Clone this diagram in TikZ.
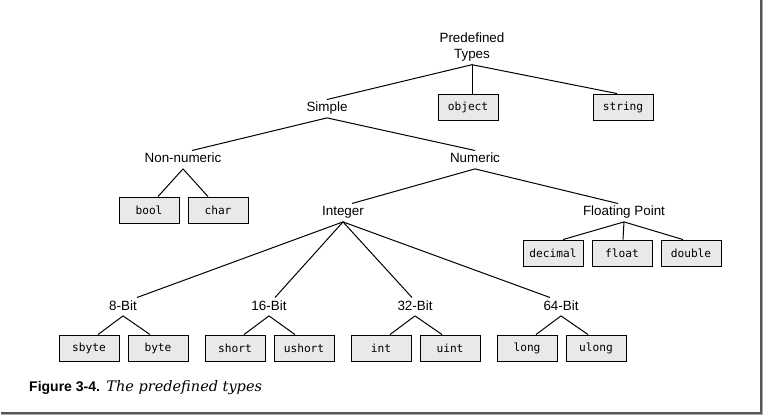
\documentclass[tikz,border=0pt]{standalone}
\usepackage{fontspec}
\setmainfont{Liberation Sans}
\newfontfamily\boxfont{DejaVu Sans Mono}
\newfontfamily\capbold{Liberation Sans}
\newfontfamily\capital{DejaVu Serif}
\definecolor{boxgray}{RGB}{233,233,233}
\definecolor{shadowdark}{RGB}{85,85,85}
\definecolor{shadowlight}{RGB}{170,170,170}
\begin{document}
\begin{tikzpicture}[x=1pt,y=-1pt,
  lbl/.style={font=\fontsize{13.4}{16}\selectfont, inner xsep=2pt, inner ysep=3pt,
              text height=9.3pt, text depth=2.7pt, anchor=base},
  tbox/.style={draw=black, line width=0.9pt, fill=boxgray, minimum width=60pt,
               minimum height=26pt, inner sep=0pt,
               font=\boxfont\fontsize{11.2}{13}\selectfont},
  conn/.style={line width=1pt, black}]
\useasboundingbox (0,0) rectangle (764,417);
\fill[white] (0,0) rectangle (764,417);

% labels
\node[font=\fontsize{13.4}{16}\selectfont, align=center, inner sep=3pt, anchor=south]
  (PT) at (472,64.7) {Predefined\\Types};
\node[lbl] (simple) at (327,112) {Simple};
\node[lbl] (nonnum) at (183,163) {Non-numeric};
\node[lbl] (numeric) at (475,163) {Numeric};
\node[lbl] (integer) at (343,216) {Integer};
\node[lbl] (floating) at (624,216) {Floating Point};
\node[lbl] (b8) at (123,310) {8-Bit};
\node[lbl] (b16) at (269,310) {16-Bit};
\node[lbl] (b32) at (415,310) {32-Bit};
\node[lbl] (b64) at (561,310) {64-Bit};

% boxes
\node[tbox] (object) at (468,107) {object};
\node[tbox] (string) at (623,107) {string};
\node[tbox] (bool) at (149,210) {bool};
\node[tbox] (char) at (218,210) {char};
\node[tbox] (decimal) at (553,253) {decimal};
\node[tbox] (float) at (622,253) {float};
\node[tbox] (double) at (691,253) {double};
\node[tbox] (sbyte) at (89,348) {sbyte};
\node[tbox] (byte) at (158,348) {byte};
\node[tbox] (short) at (235,348) {short};
\node[tbox] (ushort) at (304,348) {ushort};
\node[tbox] (int) at (381,348) {int};
\node[tbox] (uint) at (450,348) {uint};
\node[tbox] (long) at (527,348) {long};
\node[tbox] (ulong) at (596,348) {ulong};

% connectors
\draw[conn] (PT.south) -- (simple.north);
\draw[conn] (PT.south) -- ([xshift=4pt]object.north);
\draw[conn] (PT.south) -- ([xshift=-6pt]string.north);
\draw[conn] (simple.south) -- ([xshift=9pt]nonnum.north);
\draw[conn] (simple.south) -- (numeric.north);
\draw[conn] (nonnum.south) -- ([xshift=9pt]bool.north);
\draw[conn] (nonnum.south) -- ([xshift=-10pt]char.north);
\draw[conn] (numeric.south) -- ([xshift=9pt]integer.north);
\draw[conn] (numeric.south) -- ([xshift=-6pt]floating.north);
\draw[conn] (floating.south) -- ([xshift=10pt]decimal.north);
\draw[conn] (floating.south) -- ([xshift=1pt]float.north);
\draw[conn] (floating.south) -- ([xshift=-8pt]double.north);
\draw[conn] (integer.south) -- ([xshift=14pt]b8.north);
\draw[conn] (integer.south) -- ([xshift=6pt]b16.north);
\draw[conn] (integer.south) -- ([xshift=-3pt]b32.north);
\draw[conn] (integer.south) -- ([xshift=-11pt]b64.north);
\draw[conn] (b8.south) -- ([xshift=9pt]sbyte.north);
\draw[conn] (b8.south) -- ([xshift=-8pt]byte.north);
\draw[conn] (b16.south) -- ([xshift=9pt]short.north);
\draw[conn] (b16.south) -- ([xshift=-9pt]ushort.north);
\draw[conn] (b32.south) -- ([xshift=9pt]int.north);
\draw[conn] (b32.south) -- ([xshift=-8pt]uint.north);
\draw[conn] (b64.south) -- ([xshift=9pt]long.north);
\draw[conn] (b64.south) -- ([xshift=-8pt]ulong.north);

% caption
\node[anchor=base west, inner sep=0pt] (caphead) at (29,391.5)
  {\capbold\bfseries\fontsize{14}{16}\selectfont Figure 3-4.};
\node[anchor=base west, inner sep=0pt] (captext) at ([xshift=6pt]caphead.base east)
  {\capital\itshape\fontsize{14.5}{16}\selectfont The predefined types};

% frame shadow
\draw[shadowlight, line width=1.5pt] (762.6,0) -- (762.6,414.6) -- (1,414.6);
\draw[shadowdark, line width=1.5pt] (761,0) -- (761,413) -- (1,413);
\end{tikzpicture}
\end{document}
